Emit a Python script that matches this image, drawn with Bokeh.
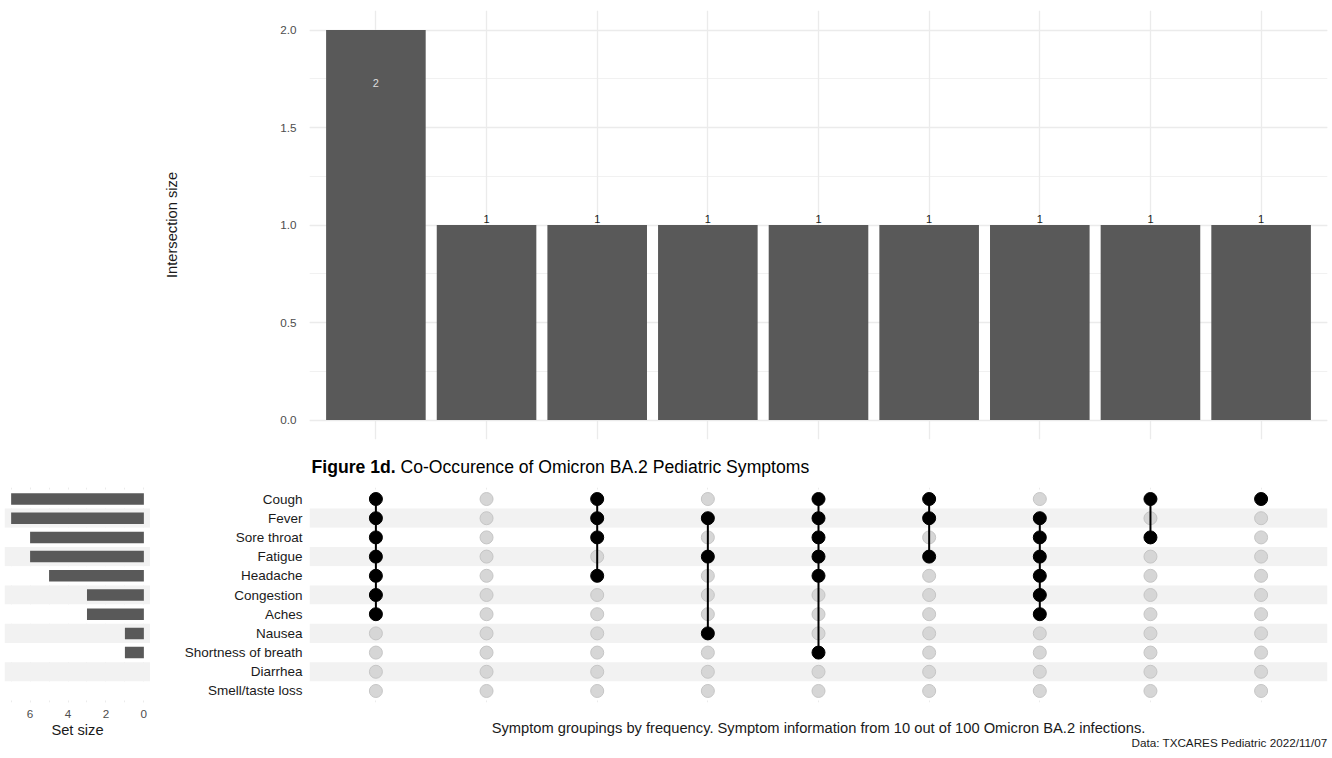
from bokeh.plotting import figure
from bokeh.layouts import column, row
from bokeh.models import (Range1d, FixedTicker, SingleIntervalTicker, BoxAnnotation,
                          Title, ColumnDataSource, NumeralTickFormatter)
from bokeh.core.properties import value
from bokeh.embed import file_html
from bokeh.resources import INLINE

# ---- data -------------------------------------------------------------
symptoms = ["Cough", "Fever", "Sore throat", "Fatigue", "Headache", "Congestion",
            "Aches", "Nausea", "Shortness of breath", "Diarrhea", "Smell/taste loss"]
set_sizes = [7, 7, 6, 6, 5, 3, 3, 1, 1, 0, 0]

intersection_sizes = [2, 1, 1, 1, 1, 1, 1, 1, 1]
intersection_members = [
    ["Cough", "Fever", "Sore throat", "Fatigue", "Headache", "Congestion", "Aches"],
    [],
    ["Cough", "Fever", "Sore throat", "Headache"],
    ["Fever", "Fatigue", "Nausea"],
    ["Cough", "Fever", "Sore throat", "Fatigue", "Headache", "Shortness of breath"],
    ["Cough", "Fever", "Fatigue"],
    ["Fever", "Sore throat", "Fatigue", "Headache", "Congestion", "Aches"],
    ["Cough", "Sore throat"],
    ["Cough"],
]

title_bold = "Figure 1d."
title_rest = "Co-Occurence of Omicron BA.2 Pediatric Symptoms"
caption = ("Symptom groupings by frequency. Symptom information from 10 out of 100 "
           "Omicron BA.2 infections.")
source_note = "Data: TXCARES Pediatric 2022/11/07"
top_axis_title = "Intersection size"
set_axis_title = "Set size"

# ---- style ------------------------------------------------------------
FONT = "Liberation Sans"
BAR = "#595959"
GRID = "#ebebeb"
STRIPE = "#f2f2f2"
TICK_TXT = "#4d4d4d"
DARK = "#1a1a1a"

W = 1332
n_cols = len(intersection_sizes)
n_rows = len(symptoms)
cols = list(range(1, n_cols + 1))
row_y = {s: n_rows - i for i, s in enumerate(symptoms)}

# shared scales with ggplot-like expansion
x_range = Range1d(0.4, n_cols + 0.6)
top_max = max(intersection_sizes)
y_top = Range1d(-0.05 * top_max, 1.05 * top_max)
y_rows = Range1d(0.4, n_rows + 0.6)
set_max = max(set_sizes)
x_set = Range1d(1.05 * set_max, -0.05 * set_max)


def plain(fig):
    fig.outline_line_color = None
    fig.background_fill_color = "white"
    fig.border_fill_color = "white"


# ---- intersection size bars ------------------------------------------
top = figure(width=W, height=450, x_range=x_range, y_range=y_top,
             output_backend="svg", toolbar_location=None,
             min_border_left=309, min_border_right=5,
             min_border_top=10, min_border_bottom=11)
plain(top)
top.vbar(x=cols, top=intersection_sizes, width=0.9, fill_color=BAR, line_color=None)

inside = [s > 0.5 * top_max for s in intersection_sizes]
lab_src = ColumnDataSource(dict(
    x=cols,
    y=intersection_sizes,
    text=[str(s) for s in intersection_sizes],
    yoff=[53 if i else -6 for i in inside],
    color=["#dedede" if i else DARK for i in inside],
))
top.text(x="x", y="y", text="text", y_offset="yoff", text_color="color",
         text_align="center", text_baseline="middle",
         text_font=value(FONT), text_font_size="11px", source=lab_src)

top.xaxis.visible = False
top.xgrid.ticker = FixedTicker(ticks=cols)
top.xgrid.grid_line_color = GRID
top.xgrid.grid_line_width = 1.3

yax = top.yaxis[0]
yax.ticker = SingleIntervalTicker(interval=0.5, num_minor_ticks=2)
yax.formatter = NumeralTickFormatter(format="0.0")
yax.axis_line_color = None
yax.major_tick_line_color = None
yax.minor_tick_line_color = None
yax.major_label_standoff = 7
yax.major_label_text_font = FONT
yax.major_label_text_font_size = "11.7px"
yax.major_label_text_color = TICK_TXT
yax.axis_label = top_axis_title
yax.axis_label_text_font = FONT
yax.axis_label_text_font_size = "14.7px"
yax.axis_label_text_font_style = "normal"
yax.axis_label_text_color = DARK
yax.axis_label_standoff = 97
top.ygrid.grid_line_color = GRID
top.ygrid.grid_line_width = 1.3
top.ygrid.minor_grid_line_color = GRID
top.ygrid.minor_grid_line_width = 0.7

# ---- figure title strip (bold lead-in + regular text) -----------------
HEAD_H = 37
head = figure(width=W, height=HEAD_H, x_range=x_range, y_range=Range1d(HEAD_H, 0),
              output_backend="svg", toolbar_location=None,
              min_border_left=309, min_border_right=5, min_border_top=0, min_border_bottom=0)
plain(head)
head.axis.visible = False
head.grid.visible = False
title_src = ColumnDataSource(dict(x=[x_range.start] * 2, y=[16, 16],
                                  text=[title_bold, title_rest],
                                  style=["bold", "normal"], dx=[2, 91]))
head.text(x="x", y="y", text="text", x_offset="dx", text_font=value(FONT),
          text_font_style="style", text_font_size="17.6px",
          text_align="left", text_baseline="middle", text_color="black",
          source=title_src)


def add_stripes(fig):
    for i, s in enumerate(symptoms):
        y = row_y[s]
        fig.add_layout(BoxAnnotation(bottom=y - 0.5, top=y + 0.5,
                                     fill_color=STRIPE if i % 2 else "white",
                                     fill_alpha=1, line_alpha=0, level="underlay"))


BOTTOM_H = 758 - 450 - HEAD_H

# ---- set size bars ----------------------------------------------------
sets = figure(width=150, height=BOTTOM_H, x_range=x_set, y_range=y_rows,
              output_backend="svg", toolbar_location=None,
              min_border_left=4, min_border_right=0,
              min_border_top=0, min_border_bottom=56)
plain(sets)
add_stripes(sets)
sets.hbar(y=[row_y[s] for s in symptoms], left=0, right=set_sizes,
          height=0.6, fill_color=BAR, line_color=None)
sets.yaxis.visible = False
sets.ygrid.visible = False
set_ticker = SingleIntervalTicker(interval=2, num_minor_ticks=2)
sx = sets.xaxis[0]
sx.ticker = set_ticker
sx.axis_line_color = None
sx.major_tick_line_color = None
sx.minor_tick_line_color = None
sx.major_tick_out = 0
sx.major_label_standoff = 3
sx.major_label_text_font = FONT
sx.major_label_text_font_size = "11.7px"
sx.major_label_text_color = TICK_TXT
sx.axis_label = set_axis_title
sx.axis_label_text_font = FONT
sx.axis_label_text_font_size = "14.7px"
sx.axis_label_text_font_style = "normal"
sx.axis_label_text_color = DARK
sx.axis_label_standoff = 1
sets.xgrid.ticker = set_ticker
sets.xgrid.grid_line_color = GRID
sets.xgrid.minor_grid_line_color = GRID

# ---- membership matrix ------------------------------------------------
mat = figure(width=W - 150, height=BOTTOM_H, x_range=x_range, y_range=y_rows,
             output_backend="svg", toolbar_location=None,
             min_border_left=159, min_border_right=5,
             min_border_top=0, min_border_bottom=56)
plain(mat)
add_stripes(mat)

off_x, off_y, on_x, on_y = [], [], [], []
seg_x, seg_lo, seg_hi = [], [], []
for c, members in zip(cols, intersection_members):
    for s in symptoms:
        if s in members:
            on_x.append(c)
            on_y.append(row_y[s])
        else:
            off_x.append(c)
            off_y.append(row_y[s])
    if len(members) > 1:
        ys = [row_y[s] for s in members]
        seg_x.append(c)
        seg_lo.append(min(ys))
        seg_hi.append(max(ys))

mat.scatter(off_x, off_y, size=13, fill_color="#d6d6d6", line_color="#c6c6c6", line_width=1)
mat.segment(x0=seg_x, y0=seg_lo, x1=seg_x, y1=seg_hi, line_color="black", line_width=2)
mat.scatter(on_x, on_y, size=13, fill_color="black", line_color="black")

my = mat.yaxis[0]
my.ticker = FixedTicker(ticks=sorted(row_y.values()))
my.major_label_overrides = {row_y[s]: s for s in symptoms}
my.axis_line_color = None
my.major_tick_line_color = None
my.minor_tick_line_color = None
my.major_tick_out = 0
my.major_label_standoff = 7
my.major_label_text_font = FONT
my.major_label_text_font_size = "13.5px"
my.major_label_text_color = DARK
mat.ygrid.visible = False

mx = mat.xaxis[0]
mx.ticker = FixedTicker(ticks=[])
mx.axis_line_color = None
mx.major_tick_line_color = None
mx.minor_tick_line_color = None
mx.axis_label = caption
mx.axis_label_text_font = FONT
mx.axis_label_text_font_size = "14.7px"
mx.axis_label_text_font_style = "normal"
mx.axis_label_text_color = DARK
mx.axis_label_standoff = 17
mat.xgrid.ticker = FixedTicker(ticks=cols)
mat.xgrid.grid_line_color = GRID

mat.add_layout(Title(text=source_note, align="right", text_font=FONT,
                     text_font_style="normal", text_font_size="11.7px",
                     text_color=DARK, standoff=-10, offset=0), "below")

layout = column(top, head, row(sets, mat))
open("out.html", "w").write(file_html(layout, INLINE))
